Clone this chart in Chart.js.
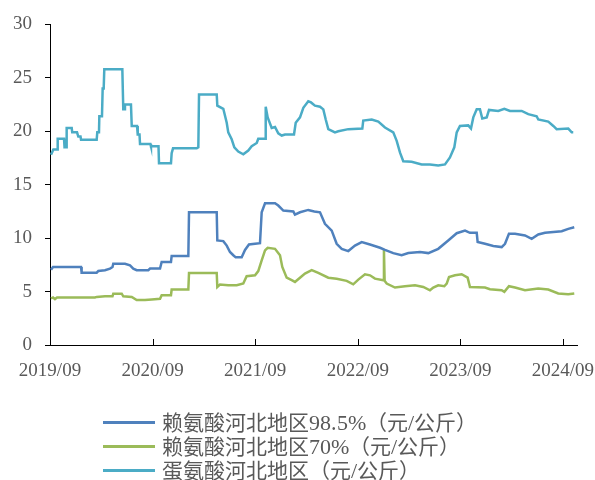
<!DOCTYPE html>
<html>
<head>
<meta charset="utf-8">
<script src="https://cdn.jsdelivr.net/npm/chart.js@4.4.1/dist/chart.umd.min.js"></script>
<style>
  @font-face { font-family: 'LegendLatin'; src: local('Liberation Serif'); size-adjust: 105%; }
  body { margin: 0; background: #fff; }
  #wrap { position: relative; width: 595px; height: 480px; }
  #legend { position: absolute; left: 103px; top: 410px; font-family: 'LegendLatin', "Noto Sans CJK SC", serif; font-size: 21px; color: #595959; text-spacing-trim: space-all; }
  #legend .row { display: flex; align-items: center; height: 24.3px; white-space: nowrap; }
  #legend .row span { line-height: 21px; }
  #legend .swatch { width: 52px; height: 3px; margin-right: 7px; flex: none; }
</style>
</head>
<body>
<div id="wrap">
  <canvas id="priceChart" width="595" height="480"></canvas>
  <div id="legend"></div>
</div>
<script>
const xTickLabels = ['2019/09', '2020/09', '2021/09', '2022/09', '2023/09', '2024/09'];
const yTicks = [0, 5, 10, 15, 20, 25, 30];
const seriesNames = ['赖氨酸河北地区98.5%（元/公斤）', '赖氨酸河北地区70%（元/公斤）', '蛋氨酸河北地区（元/公斤）'];
const seriesColors = ['#4F81BD', '#9BBB59', '#4BACC6'];

// x = months since 2019/09
const lys985Months = [0.12, 0.35, 3.63, 3.7, 5.46, 5.65, 6.43, 7.02, 7.31, 7.4, 8.77, 9.36, 9.74, 10.14, 11.5, 11.7, 12.87, 13.06, 14.15, 14.23, 16.18, 16.26, 19.5, 19.57, 20.27, 20.67, 21.05, 21.44, 21.72, 22.42, 22.81, 23.27, 23.98, 24.56, 24.76, 25.15, 26.32, 26.7, 27.29, 28.46, 28.65, 29.24, 30.21, 30.91, 31.58, 32.16, 32.95, 33.53, 34.12, 34.89, 35.67, 36.46, 37.43, 38.6, 39.18, 40.15, 41.13, 41.91, 43.28, 44.25, 45.41, 46.58, 47.57, 48.54, 49.12, 49.91, 50.02, 50.88, 51.85, 52.83, 53.22, 53.68, 54.39, 55.56, 56.34, 57.11, 57.9, 59.85, 60.62, 61.32];
const lys985Values = [7.05, 7.3, 7.3, 6.77, 6.77, 6.92, 7.0, 7.15, 7.3, 7.6, 7.6, 7.45, 7.15, 7.0, 7.0, 7.15, 7.15, 7.77, 7.77, 8.33, 8.33, 12.42, 12.42, 9.78, 9.72, 9.3, 8.7, 8.4, 8.2, 8.2, 8.9, 9.4, 9.47, 9.53, 12.42, 13.26, 13.26, 13.05, 12.58, 12.5, 12.2, 12.42, 12.64, 12.5, 12.42, 11.34, 10.7, 9.47, 9.0, 8.79, 9.3, 9.63, 9.4, 9.1, 8.9, 8.6, 8.4, 8.6, 8.7, 8.6, 9.0, 9.78, 10.46, 10.7, 10.5, 10.5, 9.63, 9.47, 9.26, 9.16, 9.47, 10.4, 10.4, 10.25, 9.94, 10.34, 10.5, 10.65, 10.87, 11.02];

const lys70Months = [0.12, 0.35, 0.58, 0.82, 5.26, 5.46, 6.43, 7.31, 7.4, 8.39, 8.57, 9.56, 10.14, 11.11, 11.9, 12.87, 13.06, 14.15, 14.23, 16.18, 16.26, 19.5, 19.57, 19.88, 20.85, 21.84, 22.61, 23.0, 23.98, 24.36, 24.76, 25.15, 25.46, 26.32, 26.9, 27.17, 27.68, 28.27, 28.65, 29.24, 29.82, 30.61, 31.38, 32.55, 33.53, 34.7, 35.47, 36.06, 36.84, 37.43, 38.01, 38.98, 39.06, 39.14, 39.38, 40.35, 41.52, 42.69, 43.66, 44.44, 44.83, 45.41, 46.12, 46.4, 46.67, 47.37, 48.15, 48.85, 49.12, 50.88, 51.46, 52.83, 53.14, 53.68, 54.39, 55.56, 57.11, 58.28, 59.45, 60.61, 61.32];
const lys70Values = [4.35, 4.45, 4.3, 4.45, 4.45, 4.5, 4.56, 4.56, 4.8, 4.8, 4.56, 4.5, 4.2, 4.2, 4.26, 4.32, 4.66, 4.66, 5.19, 5.19, 6.74, 6.74, 5.43, 5.65, 5.59, 5.59, 5.75, 6.43, 6.52, 6.92, 7.92, 8.85, 9.1, 9.0, 8.4, 7.3, 6.3, 6.06, 5.9, 6.3, 6.68, 7.0, 6.74, 6.3, 6.2, 6.0, 5.68, 6.12, 6.62, 6.52, 6.21, 6.06, 8.9, 6.0, 5.75, 5.38, 5.5, 5.59, 5.43, 5.12, 5.38, 5.59, 5.5, 5.75, 6.36, 6.52, 6.62, 6.3, 5.43, 5.38, 5.22, 5.12, 4.97, 5.5, 5.38, 5.12, 5.28, 5.19, 4.82, 4.75, 4.82];

const metMonths = [0.12, 0.39, 0.82, 0.9, 1.64, 1.7, 1.9, 1.95, 2.54, 2.6, 3.16, 3.31, 3.57, 3.63, 5.46, 5.53, 5.73, 5.77, 6.08, 6.16, 6.28, 6.35, 8.46, 8.57, 8.71, 8.77, 9.47, 9.56, 10.18, 10.26, 10.47, 10.53, 11.75, 11.81, 12.69, 12.75, 14.15, 14.23, 14.39, 17.16, 17.35, 17.43, 19.5, 19.57, 20.27, 20.67, 20.85, 21.25, 21.56, 22.02, 22.61, 23.19, 23.59, 24.18, 24.36, 25.15, 25.23, 25.46, 25.93, 26.32, 26.7, 27.1, 27.49, 28.54, 28.74, 29.24, 29.63, 30.21, 30.53, 30.99, 31.58, 31.97, 32.25, 32.55, 33.33, 33.72, 34.89, 36.53, 36.64, 37.63, 38.4, 39.18, 40.15, 40.55, 40.94, 41.32, 42.3, 43.47, 44.44, 45.41, 46.2, 46.78, 47.29, 47.57, 47.95, 48.92, 49.24, 49.51, 49.91, 50.29, 50.56, 51.08, 51.35, 52.43, 53.14, 53.8, 55.17, 55.94, 56.92, 57.11, 58.28, 58.87, 59.26, 60.62, 61.02, 61.2];
const metValues = [17.8, 18.3, 18.3, 19.3, 19.3, 18.5, 18.5, 20.3, 20.3, 19.9, 19.9, 19.5, 19.5, 19.2, 19.2, 19.9, 19.9, 21.4, 21.4, 24.0, 24.0, 25.8, 25.8, 22.05, 22.05, 22.5, 22.5, 20.5, 20.5, 19.7, 19.7, 18.8, 18.8, 18.6, 18.6, 17.0, 17.0, 17.95, 18.4, 18.4, 18.5, 23.45, 23.45, 22.4, 22.1, 20.8, 19.9, 19.25, 18.5, 18.1, 17.85, 18.2, 18.6, 18.9, 19.3, 19.3, 22.3, 21.3, 20.3, 20.4, 19.8, 19.6, 19.7, 19.7, 20.8, 21.3, 22.2, 22.8, 22.7, 22.4, 22.3, 22.05, 21.1, 20.2, 19.9, 20.0, 20.2, 20.25, 21.0, 21.1, 20.9, 20.35, 19.9, 19.1, 18.0, 17.2, 17.15, 16.9, 16.9, 16.8, 16.9, 17.55, 18.5, 19.9, 20.5, 20.55, 20.25, 21.3, 22.05, 22.05, 21.2, 21.3, 22.0, 21.9, 22.1, 21.9, 21.9, 21.6, 21.4, 21.1, 20.9, 20.5, 20.2, 20.25, 19.9, 19.9];

const xMax = 61.64;
const axisFont = { family: "'Liberation Serif', 'Times New Roman', serif", size: 19 };

function toPoints(months, values) {
	return months.map((m, i) => ({ x: m, y: values[i] }));
}

const seriesData = [
	toPoints(lys985Months, lys985Values),
	toPoints(lys70Months, lys70Values),
	toPoints(metMonths, metValues)
];

// x axis tick marks point into the plot
const innerTicks = {
	id: 'innerTicks',
	afterDraw(chart) {
		const ctx = chart.ctx;
		const x = chart.scales.x;
		const bottom = chart.chartArea.bottom;
		ctx.save();
		ctx.strokeStyle = '#000';
		ctx.lineWidth = 1;
		x.ticks.forEach(t => {
			const px = Math.round(x.getPixelForValue(t.value)) + 0.5;
			ctx.beginPath();
			ctx.moveTo(px, bottom);
			ctx.lineTo(px, bottom - 6);
			ctx.stroke();
		});
		ctx.restore();
	}
};

new Chart(document.getElementById('priceChart'), {
	type: 'line',
	data: {
		datasets: seriesNames.map((name, i) => ({
			label: name,
			data: seriesData[i],
			borderColor: seriesColors[i],
			backgroundColor: seriesColors[i],
			borderWidth: 2.5,
			pointRadius: 0,
			tension: 0
		}))
	},
	options: {
		responsive: false,
		animation: false,
		layout: { padding: { top: 23, right: 18, bottom: 95, left: 0 } },
		plugins: { legend: { display: false }, tooltip: { enabled: false } },
		scales: {
			x: {
				type: 'linear',
				min: 0,
				max: xMax,
				afterFit: s => { s.height = 40; s.paddingLeft = 0; s.paddingRight = 0; },
				afterBuildTicks: s => { s.ticks = xTickLabels.map((l, i) => ({ value: i * 12 })); },
				ticks: {
					autoSkip: false,
					maxRotation: 0,
					padding: 15,
					color: '#595959',
					font: axisFont,
					callback: v => xTickLabels[Math.round(v / 12)]
				},
				grid: { drawOnChartArea: false, drawTicks: false },
				border: { color: '#000', width: 1 }
			},
			y: {
				min: 0,
				max: 30,
				afterFit: s => { s.width = 50; },
				afterBuildTicks: s => { s.ticks = yTicks.map(v => ({ value: v })); },
				ticks: { padding: 13, color: '#595959', font: axisFont },
				grid: { drawOnChartArea: false, drawTicks: true, tickLength: 5, color: '#000' },
				border: { color: '#000', width: 1 }
			}
		}
	},
	plugins: [innerTicks]
});

const legend = document.getElementById('legend');
seriesNames.forEach((name, i) => {
	const row = document.createElement('div');
	row.className = 'row';
	const sw = document.createElement('span');
	sw.className = 'swatch';
	sw.style.background = seriesColors[i];
	const txt = document.createElement('span');
	txt.textContent = name;
	row.appendChild(sw);
	row.appendChild(txt);
	legend.appendChild(row);
});
</script>
</body>
</html>
